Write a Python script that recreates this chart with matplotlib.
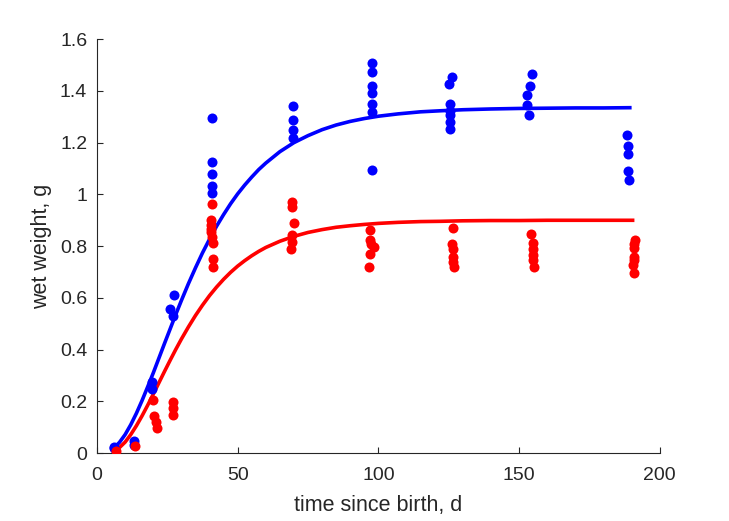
import matplotlib
matplotlib.use("Agg")
import matplotlib.pyplot as plt

# ---- data ----
blue_x = [6.0, 6.2, 13.1, 13.1, 19.6, 19.6, 27.3, 25.9, 27.0,
          40.8, 40.8, 40.8, 40.8, 40.8,
          69.6, 69.6, 69.6, 69.6,
          97.6, 97.6, 97.6, 97.6, 97.6, 97.6, 97.6,
          126.0, 125.0, 125.6, 125.6, 125.6, 125.6, 125.6,
          154.5, 153.8, 152.8, 152.8, 153.5,
          188.3, 188.6, 188.6, 188.6, 189.0]
blue_y = [0.020, 0.024, 0.046, 0.031, 0.274, 0.247, 0.610, 0.559, 0.530,
          1.295, 1.126, 1.079, 1.033, 1.006,
          1.342, 1.288, 1.249, 1.218,
          1.508, 1.472, 1.418, 1.392, 1.349, 1.320, 1.094,
          1.455, 1.426, 1.349, 1.324, 1.307, 1.281, 1.253,
          1.465, 1.419, 1.384, 1.345, 1.307,
          1.230, 1.187, 1.157, 1.091, 1.056]

red_x = [6.7, 13.5, 19.8, 20.1, 20.9, 21.3, 27.0, 27.0, 27.0,
         40.8, 40.6, 40.5, 40.6, 40.6, 40.8, 41.1, 41.1, 41.4,
         69.4, 69.4, 70.2, 69.4, 69.4, 68.8,
         96.9, 97.1, 98.3, 97.3, 96.9, 96.5,
         126.6, 126.3, 126.4, 126.6, 126.6, 126.8,
         154.3, 154.8, 155.0, 155.0, 155.0, 155.3,
         191.1, 190.9, 190.7, 190.7, 190.7, 190.5, 190.7]
red_y = [0.008, 0.027, 0.207, 0.143, 0.119, 0.097, 0.199, 0.176, 0.149,
         0.961, 0.903, 0.880, 0.866, 0.853, 0.835, 0.812, 0.751, 0.718,
         0.972, 0.952, 0.891, 0.843, 0.818, 0.788,
         0.863, 0.824, 0.798, 0.810, 0.771, 0.721,
         0.872, 0.810, 0.790, 0.760, 0.740, 0.721,
         0.848, 0.813, 0.790, 0.767, 0.748, 0.721,
         0.825, 0.810, 0.794, 0.760, 0.745, 0.729, 0.698]

# fitted curves, values
blue_fit_x = [6, 8, 10, 12, 14, 16, 18, 20, 22, 24, 26, 28, 30, 32.5, 35, 37.5,
              40, 42.5, 45, 47.5, 50, 52.5, 55, 57.5, 60, 65, 70, 75, 80, 85,
              90, 95, 100, 107, 115, 122, 130, 140, 150, 160, 170, 180, 190]
blue_fit_y = [0.020, 0.042, 0.072, 0.110, 0.154, 0.203, 0.256, 0.310, 0.367,
              0.424, 0.480, 0.536, 0.590, 0.655, 0.716, 0.774, 0.827, 0.877,
              0.922, 0.964, 1.002, 1.036, 1.067, 1.096, 1.121, 1.165, 1.200,
              1.227, 1.250, 1.268, 1.282, 1.293, 1.302, 1.311, 1.319, 1.323,
              1.327, 1.330, 1.332, 1.333, 1.334, 1.334, 1.335]

red_fit_x = [6, 8, 10, 12, 14, 16, 18, 20, 22, 24, 26, 28, 30, 32.5, 35, 37.5,
             40, 42.5, 45, 47.5, 50, 52.5, 55, 57.5, 60, 65, 70, 75, 80, 85,
             90, 95, 100, 107, 115, 122, 130, 140, 150, 160, 170, 180, 191]
red_fit_y = [0.008, 0.022, 0.043, 0.072, 0.106, 0.144, 0.185, 0.228, 0.272,
             0.316, 0.359, 0.401, 0.441, 0.488, 0.532, 0.572, 0.609, 0.642,
             0.672, 0.699, 0.723, 0.744, 0.763, 0.780, 0.795, 0.819, 0.838,
             0.853, 0.864, 0.873, 0.879, 0.884, 0.888, 0.892, 0.895, 0.896,
             0.898, 0.899, 0.899, 0.900, 0.900, 0.900, 0.900]

x_ticks = [0, 50, 100, 150, 200]
y_ticks = [0, 0.2, 0.4, 0.6, 0.8, 1.0, 1.2, 1.4, 1.6]
y_tick_labels = ["0", "0.2", "0.4", "0.6", "0.8", "1", "1.2", "1.4", "1.6"]

# ---- plotting ----
plt.rcParams['font.family'] = ['Liberation Sans', 'DejaVu Sans']
dark = '#262626'

fig = plt.figure(figsize=(7.29, 5.21), dpi=100)
ax = fig.add_axes([0.133, 0.130, 0.772, 0.795])

ax.scatter(blue_x, blue_y, s=52, color='#0000ff', zorder=3, linewidths=0)
ax.scatter(red_x, red_y, s=52, color='#ff0000', zorder=3, linewidths=0)
ax.plot(blue_fit_x, blue_fit_y, color='#0000ff', lw=2.6, zorder=2,
        solid_capstyle='butt', solid_joinstyle='round')
ax.plot(red_fit_x, red_fit_y, color='#ff0000', lw=2.6, zorder=2,
        solid_capstyle='butt', solid_joinstyle='round')

ax.set_xlim(0, 200)
ax.set_ylim(0, 1.6)
ax.set_xticks(x_ticks)
ax.set_yticks(y_ticks)
ax.set_yticklabels(y_tick_labels)

for s in ['top', 'right']:
    ax.spines[s].set_visible(False)
for s in ['left', 'bottom']:
    ax.spines[s].set_color(dark)
    ax.spines[s].set_linewidth(0.8)

ax.tick_params(direction='in', length=4, width=0.8, colors=dark,
               labelsize=14, labelcolor=dark)
ax.tick_params(axis='y', pad=7)
ax.tick_params(axis='x', pad=10)

ax.set_xlabel('time since birth, d', fontsize=15.5, color=dark, labelpad=8)
ax.set_ylabel('wet weight, g', fontsize=15.5, color=dark, labelpad=6)

fig.savefig('out.png', dpi=100)
